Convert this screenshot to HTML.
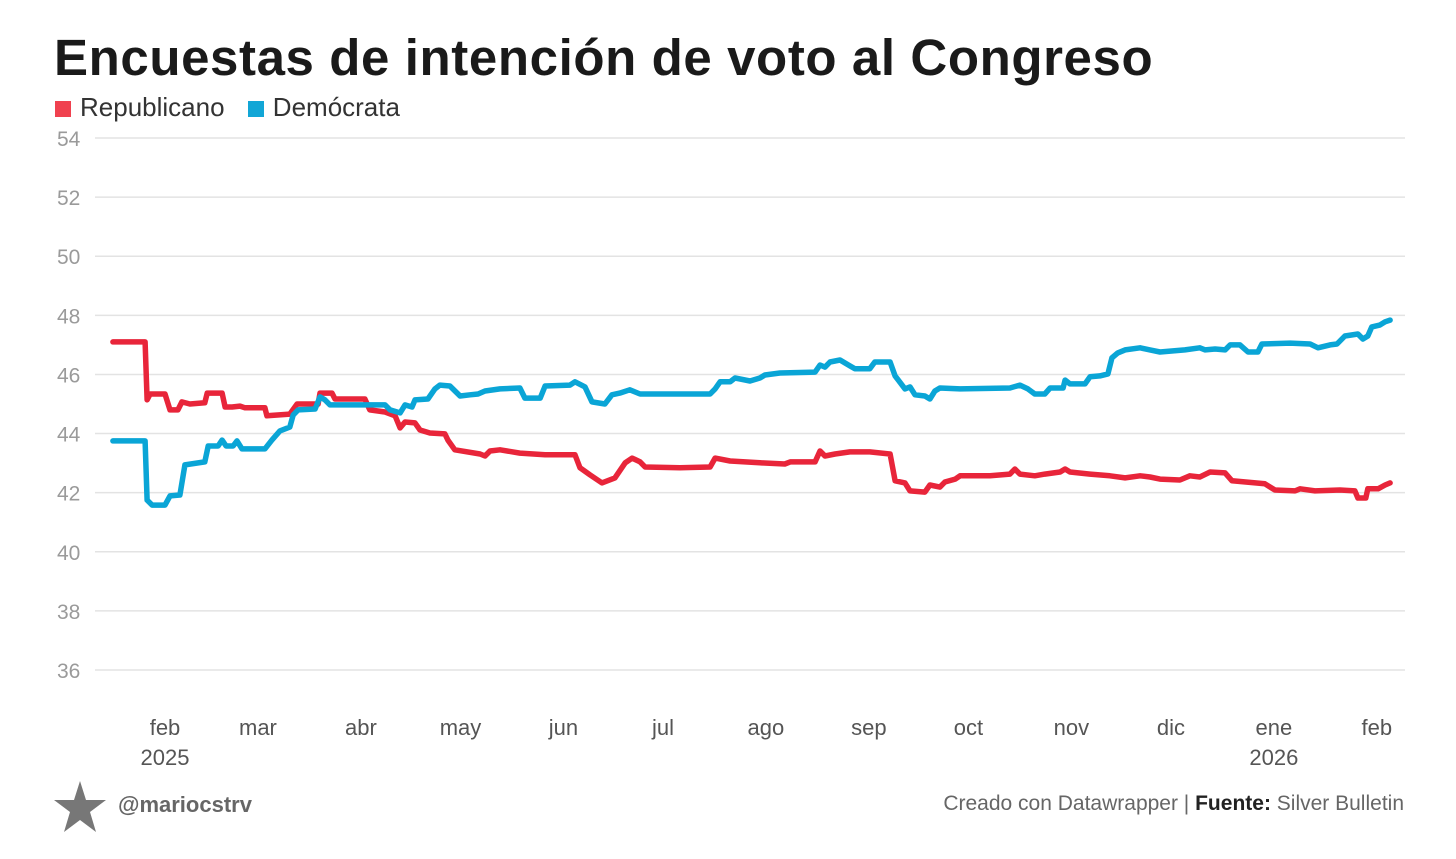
<!DOCTYPE html>
<html><head><meta charset="utf-8"><style>
body{margin:0;width:1456px;height:859px;background:#fff;overflow:hidden;font-family:"Liberation Sans",sans-serif}
#title{position:absolute;left:54px;top:28px;font-size:51px;font-weight:bold;color:#1a1a1a;letter-spacing:0.6px;margin:0}
#legend{position:absolute;left:55px;top:92px;font-size:26px;color:#333}
.sw{display:inline-block;width:16px;height:16px;margin-right:9px;vertical-align:-1px}
.li{margin-right:16px}
#foot-l{position:absolute;left:118px;top:792px;font-size:22px;font-weight:bold;color:#666}
#foot-r{position:absolute;right:52px;top:792px;font-size:21px;color:#666}
</style></head><body>
<h1 id="title">Encuestas de intención de voto al Congreso</h1>
<div id="legend">
<span class="li"><span class="sw" style="background:#f0414f"></span>Republicano</span>
<span class="li"><span class="sw" style="background:#12a6d6"></span>Demócrata</span>
</div>
<svg id="chart" width="1456" height="859" style="position:absolute;left:0;top:0"></svg>
<svg width="56" height="56" style="position:absolute;left:52px;top:779px"><polygon points="28,2 34,21 54,21 38,33 44,53 28,41 12,53 18,33 2,21 22,21" fill="#777"/></svg>
<div id="foot-l">@mariocstrv</div>
<div id="foot-r">Creado con Datawrapper | <b style="color:#222">Fuente:</b> Silver Bulletin</div>
<script>
const yTicks=[54,52,50,48,46,44,42,40,38,36];
const monthLabels=["feb","mar","abr","may","jun","jul","ago","sep","oct","nov","dic","ene","feb"];
const monthDays=[31,59,90,120,151,181,212,243,273,304,334,365,396];
const yearLabels=[{d:31,t:"2025"},{d:365,t:"2026"}];
const repDays=[15.3,25,25.6,26.5,31,32.5,34.9,36.1,38.5,43,43.7,48.2,49.1,51.2,53.6,55.1,61.1,61.7,68.6,70.8,77.1,77.7,81.3,82.2,91.2,92.7,97.3,100.3,101.8,103.3,106.3,107.8,110.8,115.3,116.2,118.3,125.9,127.4,128.9,131.9,137.9,145.5,154.5,156,159,162.6,166.5,169.6,171.7,174.1,175.6,186.1,195.2,196.7,201.2,210.2,217.7,219.3,226.8,228.3,229.8,232.8,237.3,243.3,249.4,250.9,253.9,255.4,259.9,261.4,264.4,265.9,269,270.5,279.5,285.5,287,288.5,293,296,300.6,302.1,303.6,309.6,315.6,320.2,324.7,327.7,330.7,336.7,339.7,342.7,345.8,350.3,352.4,362.3,365.3,371.4,372.9,377.4,384.9,389.4,390.3,392.7,393.3,396.4,398.5,400];
const repVals=[47.10,47.10,45.14,45.34,45.34,44.80,44.80,45.07,45.00,45.04,45.37,45.37,44.90,44.90,44.93,44.87,44.87,44.60,44.66,45.00,45.00,45.37,45.37,45.17,45.17,44.80,44.73,44.60,44.19,44.39,44.36,44.12,44.02,43.99,43.78,43.45,43.31,43.24,43.41,43.45,43.34,43.28,43.28,42.84,42.60,42.33,42.50,43.01,43.17,43.04,42.87,42.84,42.87,43.17,43.07,43.01,42.97,43.04,43.04,43.41,43.24,43.31,43.38,43.38,43.31,42.40,42.33,42.06,42.02,42.26,42.19,42.36,42.46,42.57,42.57,42.63,42.80,42.63,42.57,42.63,42.70,42.80,42.70,42.63,42.57,42.50,42.57,42.53,42.46,42.43,42.57,42.53,42.70,42.67,42.40,42.30,42.09,42.06,42.13,42.06,42.09,42.06,41.82,41.82,42.13,42.13,42.26,42.33];
const demDays=[15.3,25,25.6,27.1,31,32.5,35.5,37,43,44,47,48.2,49.4,51.5,52.7,54.2,61.1,63.2,65.6,68.6,69.6,71.1,76.2,77.7,79.2,80.7,97.3,98.8,101.8,103.3,105.4,106.3,110.2,112.3,113.8,116.8,119.9,122.9,125.3,127.4,131.9,137.9,139.4,144,145.5,153,154.5,157.5,159.6,163.5,165.6,168,171,174.1,195.2,196.7,198.2,201.2,202.7,207.2,210.2,211.7,216.2,226.8,228.3,229.8,231.3,234.3,237.3,238.8,243.3,244.8,249.4,250.9,253.9,255.4,256.9,259.9,261.4,262.9,264.4,270.5,285.5,288.5,290.9,293,296,297.6,301.5,302.1,303.6,308.1,309.6,312.6,315,316.2,318,320.2,324.7,327.7,330.7,338.2,342.7,344.3,347.3,350.3,351.8,354.8,357.2,360.2,361.4,369.9,375.9,378.3,381.9,384,386.4,390.3,391.8,393.3,394.5,396.9,398.5,400];
const demVals=[43.75,43.75,41.75,41.58,41.58,41.89,41.92,42.94,43.04,43.58,43.58,43.78,43.58,43.58,43.75,43.48,43.48,43.78,44.09,44.22,44.63,44.80,44.83,45.24,45.14,44.97,44.97,44.80,44.70,44.97,44.90,45.14,45.17,45.51,45.64,45.61,45.27,45.31,45.34,45.44,45.51,45.54,45.20,45.20,45.61,45.64,45.75,45.58,45.07,45.00,45.31,45.37,45.48,45.34,45.34,45.51,45.75,45.75,45.88,45.78,45.88,45.98,46.05,46.08,46.32,46.25,46.42,46.49,46.29,46.19,46.19,46.42,46.42,45.95,45.51,45.58,45.31,45.27,45.17,45.44,45.54,45.51,45.54,45.64,45.51,45.34,45.34,45.54,45.54,45.81,45.68,45.68,45.92,45.95,46.02,46.56,46.73,46.83,46.90,46.83,46.76,46.83,46.90,46.83,46.86,46.83,47.00,47.00,46.76,46.76,47.03,47.06,47.03,46.90,47.00,47.03,47.30,47.37,47.20,47.30,47.61,47.67,47.78,47.84];

const NS="http://www.w3.org/2000/svg";
const svg=document.getElementById('chart');
const x=d=>165+(d-31)*3.32;
const y=v=>138+(54-v)*29.556;
function mk(t,a){const e=document.createElementNS(NS,t);for(const k in a)e.setAttribute(k,a[k]);svg.appendChild(e);return e;}
yTicks.forEach(v=>{
  const g=mk('line',{x1:95,x2:1405,y1:y(v),y2:y(v),stroke:'#e3e3e3','stroke-width':1.5});
  
  
  const t=mk('text',{x:57,y:y(v)+8,'font-size':21,fill:'#9a9a9a','font-family':'Liberation Sans'});
  t.textContent=v;
  
  
});
monthLabels.forEach((m,i)=>{
  const t=mk('text',{x:x(monthDays[i]),y:735,'font-size':22,fill:'#555','text-anchor':'middle','font-family':'Liberation Sans'});
  t.textContent=m;
  
  
});
yearLabels.forEach(o=>{
  const t=mk('text',{x:x(o.d),y:765,'font-size':22,fill:'#555','text-anchor':'middle','font-family':'Liberation Sans'});
  t.textContent=o.t;
  
  
});
function line(days,vals,col,name){
  const d=days.map((dd,i)=>(i?'L':'M')+x(dd).toFixed(1)+','+y(vals[i]).toFixed(1)).join('');
  const p=mk('path',{d:d,fill:'none',stroke:col,'stroke-width':5.5,'stroke-linejoin':'round','stroke-linecap':'round'});
  
  
}
line(repDays,repVals,'#e8253a','republicano-line');
line(demDays,demVals,'#0aa5d6','democrata-line');
</script>
</body></html>
